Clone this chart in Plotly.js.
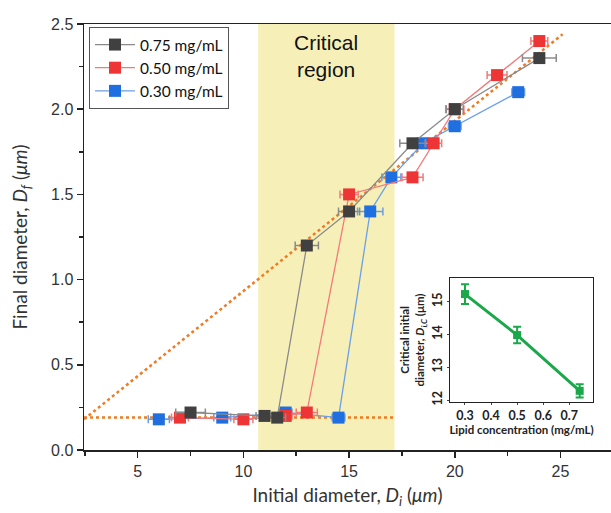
<!DOCTYPE html>
<html><head><meta charset="utf-8">
<script src="https://cdn.plot.ly/plotly-3.0.1.min.js"></script>
<style>html,body{margin:0;padding:0;background:#fff;overflow:hidden}#c{width:611px;height:513px}</style>
</head><body><div id="c"></div>
<script>
// Main chart data
const blackX = [7.5, 11, 11.6, 13, 15, 18, 20, 24];
const blackY = [0.22, 0.20, 0.19, 1.2, 1.4, 1.8, 2.0, 2.3];
const blackErr = [0.7, 0.4, 0.4, 0.55, 0.5, 0.6, 0.4, 0.8];

const redX = [7, 10, 12, 13, 15, 18, 19, 20, 22, 24];
const redY = [0.19, 0.18, 0.20, 0.22, 1.5, 1.6, 1.8, 2.0, 2.2, 2.4];
const redErr = [0.4, 0.45, 0.3, 0.5, 0.43, 0.5, 0.38, 0.43, 0.47, 0.4];

const blueX = [6, 9, 12, 14.5, 16, 17, 18.5, 20, 23];
const blueY = [0.18, 0.19, 0.22, 0.19, 1.4, 1.6, 1.8, 1.9, 2.1];
const blueErr = [0.5, 0.4, 0.3, 0.3, 0.6, 0.45, 0.3, 0.3, 0.3];

const seriesNames = ["0.75 mg/mL", "0.50 mg/mL", "0.30 mg/mL"];

// guide lines
const diagX = [2.46, 25.1];
const diagY = [0.18, 2.44];
const flatX = [2.46, 17.1];
const flatY = [0.19, 0.19];

// critical region
const regionX = [10.7, 17.15];

// inset data
const insetX = [0.30, 0.50, 0.74];
const insetY = [15.23, 13.98, 12.28];
const insetErr = [0.3, 0.25, 0.2];

const tickFont = {family: "Liberation Sans, Arial, sans-serif", size: 16, color: "#333"};
const titleFont = {family: "Lato, sans-serif", size: 19, color: "#333"};
const insetFont = {family: "Lato, sans-serif", size: 12.5, color: "#222", weight: "bold"};
const insetTitleFont = {family: "Lato, sans-serif", size: 11.5, color: "#222", weight: "bold"};

function series(x, y, err, name, mcol, lcol) {
  return {
    x: x, y: y, name: name, type: "scatter", mode: "lines+markers",
    line: {color: lcol, width: 1.3},
    marker: {symbol: "square", size: 12, color: mcol},
    error_x: {type: "data", array: err, visible: true, color: lcol, thickness: 1.5, width: 4},
    xaxis: "x", yaxis: "y"
  };
}

const traces = [
  {x: diagX, y: diagY, mode: "lines", line: {color: "#f07b22", width: 2.5, dash: "dot"}, showlegend: false, hoverinfo: "skip"},
  {x: flatX, y: flatY, mode: "lines", line: {color: "#f07b22", width: 2.5, dash: "dot"}, showlegend: false, hoverinfo: "skip"},
  series(blueX, blueY, blueErr, seriesNames[2], "#1f6fe0", "#6a9fe8"),
  series(redX, redY, redErr, seriesNames[1], "#ee3535", "#f27a7a"),
  series(blackX, blackY, blackErr, seriesNames[0], "#404040", "#8a8a8a"),
  {
    x: insetX, y: insetY, type: "scatter", mode: "lines+markers", showlegend: false,
    line: {color: "#1aa84a", width: 3},
    marker: {symbol: "square", size: 8, color: "#1aa84a"},
    error_y: {type: "data", array: insetErr, visible: true, color: "#1aa84a", thickness: 2, width: 4},
    xaxis: "x2", yaxis: "y2"
  }
];

const layout = {
  width: 611, height: 513,
  margin: {l: 84, r: 0, t: 24, b: 63},
  paper_bgcolor: "#fff", plot_bgcolor: "#fff",
  showlegend: true,
  legend: {
    x: 0.0095, y: 0.993, xanchor: "left", yanchor: "top",
    bgcolor: "#fff", bordercolor: "#555", borderwidth: 1,
    font: {family: "Lato, sans-serif", size: 15.5, color: "#111"},
    traceorder: "reversed", tracegroupgap: 0, itemwidth: 40
  },
  xaxis: {
    range: [2.46, 27.39], tick0: 0, dtick: 5, ticks: "outside", ticklen: 6, tickwidth: 1.5,
    tickcolor: "#222", showline: true, linecolor: "#222", linewidth: 1.5, mirror: true,
    showgrid: false, zeroline: false, tickfont: tickFont,
    minor: {dtick: 2.5, ticks: "outside", ticklen: 4, tickcolor: "#222", tickwidth: 1.5},
    title: {text: "Initial diameter, <i>D<sub>i</sub></i> (<i>μm</i>)", font: titleFont, standoff: 10}
  },
  yaxis: {
    range: [0, 2.5], tick0: 0, dtick: 0.5, ticks: "outside", ticklen: 6, tickwidth: 1.5,
    tickcolor: "#222", showline: true, linecolor: "#222", linewidth: 1.5, mirror: false,
    showgrid: false, zeroline: false, tickfont: tickFont, tickformat: ".1f",
    minor: {dtick: 0.25, ticks: "outside", ticklen: 4, tickcolor: "#222", tickwidth: 1.5},
    title: {text: "Final diameter, <i>D<sub>f</sub></i> (<i>μm</i>)", font: titleFont, standoff: 18}
  },
  xaxis2: {
    domain: [0.6945, 0.9658], anchor: "y2", range: [0.2425, 0.791], dtick: 0.1, tick0: 0,
    ticks: "outside", ticklen: 2, showline: true, mirror: true, linecolor: "#222", linewidth: 1.2,
    showgrid: false, zeroline: false, tickfont: insetFont,
    title: {text: "Lipid concentration (mg/mL)", font: insetTitleFont, standoff: 0}
  },
  yaxis2: {
    domain: [0.1127, 0.4038], anchor: "x2", range: [11.94, 15.72], dtick: 1,
    ticks: "outside", ticklen: 2, showline: true, mirror: true, linecolor: "#222", linewidth: 1.2,
    showgrid: false, zeroline: false, tickangle: -90, tickfont: insetFont,
    title: {text: "Critical initial<br>diameter, <i>D<sub>i,C</sub></i> (μm)", font: insetTitleFont, standoff: 2}
  },
  shapes: [
    {type: "rect", xref: "x", yref: "paper", x0: regionX[0], x1: regionX[1], y0: 0, y1: 1,
     fillcolor: "#f6f0b8", line: {width: 0}, layer: "below"}
  ],
  annotations: [
    {xref: "x", yref: "paper", x: (regionX[0] + regionX[1]) / 2, y: 0.988, yanchor: "top",
     text: "Critical<br>region", showarrow: false,
     font: {family: "Liberation Sans, Arial, sans-serif", size: 21, color: "#111"}}
  ]
};

Plotly.newPlot("c", traces, layout, {displayModeBar: false, staticPlot: true});
</script></body></html>
